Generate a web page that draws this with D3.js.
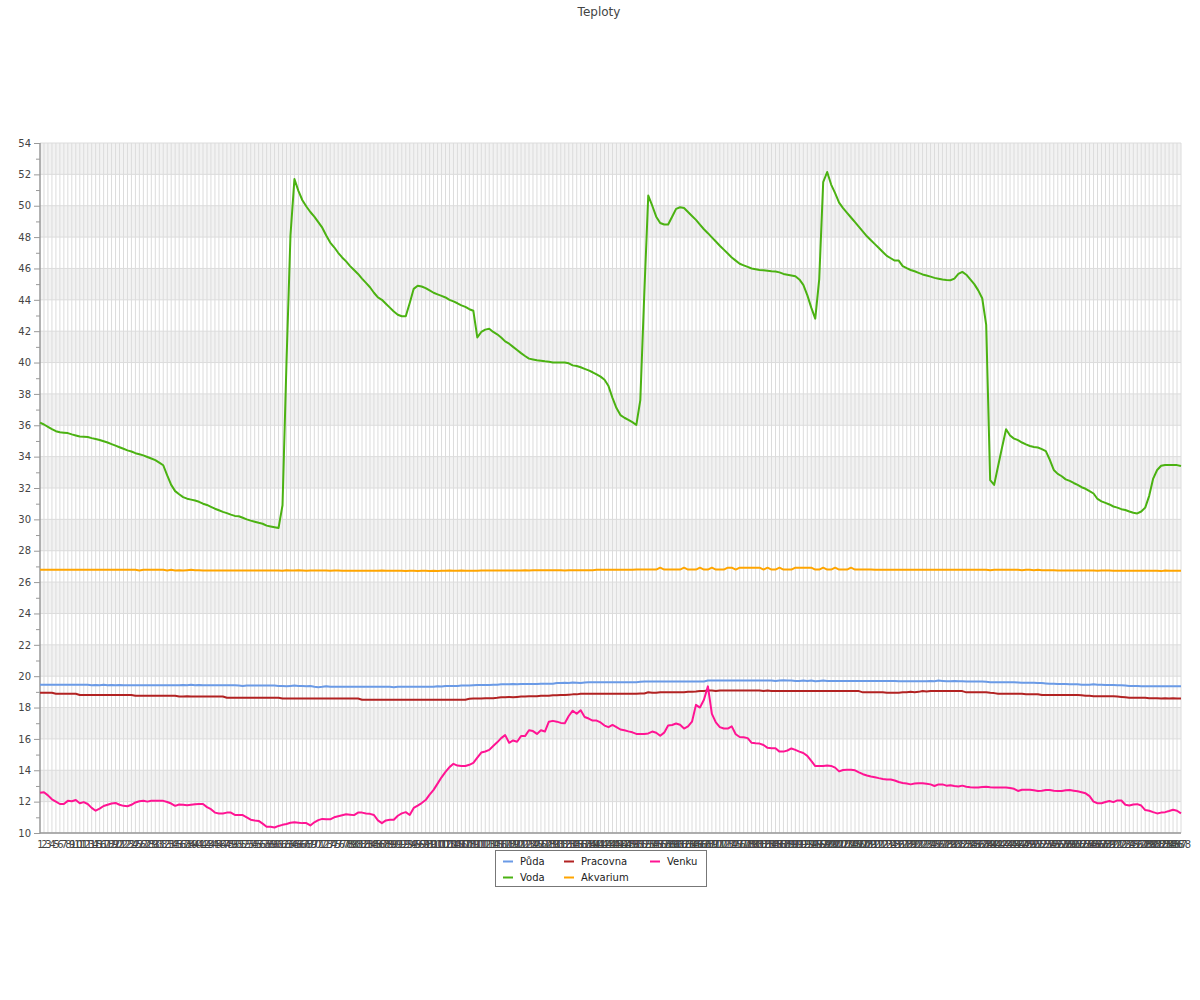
<!DOCTYPE html>
<html><head><meta charset="utf-8">
<script src="https://cdn.jsdelivr.net/npm/d3@7/dist/d3.min.js"></script>
<style>body{margin:0;background:#fff}svg{display:block;font-family:"DejaVu Sans",sans-serif}</style>
</head><body>
<svg id="c" width="1200" height="1000"></svg>
<script>
const chartTitle = "Teploty";
const categories = Array.from({length: 288}, (_, i) => String(i + 1));
const yTicks = [10,12,14,16,18,20,22,24,26,28,30,32,34,36,38,40,42,44,46,48,50,52,54];
const yMinorTicks = [11,13,15,17,19,21,23,25,27,29,31,33,35,37,39,41,43,45,47,49,51,53];
const seriesNames = ["Půda","Voda","Pracovna","Akvarium","Venku"];
const seriesColors = ["#6a9ae6","#4bb212","#b22222","#ffa500","#ff1493"];

const puda = [
19.46,19.46,19.46,19.46,19.46,19.46,19.46,19.46,19.46,19.46,
19.46,19.46,19.46,19.42,19.44,19.42,19.46,19.42,19.44,19.42,
19.44,19.42,19.42,19.42,19.42,19.42,19.42,19.42,19.42,19.42,
19.42,19.42,19.42,19.42,19.42,19.42,19.44,19.42,19.46,19.42,
19.44,19.42,19.42,19.42,19.42,19.42,19.42,19.42,19.42,19.42,
19.40,19.38,19.40,19.40,19.40,19.40,19.40,19.40,19.40,19.40,
19.38,19.38,19.36,19.38,19.40,19.38,19.38,19.36,19.38,19.33,
19.30,19.32,19.36,19.32,19.32,19.32,19.32,19.32,19.32,19.32,
19.32,19.32,19.32,19.32,19.32,19.32,19.32,19.32,19.32,19.30,
19.32,19.32,19.32,19.32,19.32,19.32,19.32,19.32,19.32,19.32,
19.36,19.34,19.38,19.38,19.38,19.38,19.40,19.40,19.40,19.42,
19.44,19.44,19.44,19.44,19.46,19.46,19.48,19.48,19.48,19.50,
19.48,19.50,19.50,19.50,19.50,19.50,19.52,19.52,19.52,19.52,
19.56,19.56,19.58,19.56,19.60,19.58,19.56,19.60,19.62,19.62,
19.62,19.62,19.62,19.62,19.62,19.62,19.62,19.62,19.62,19.62,
19.62,19.64,19.66,19.66,19.66,19.66,19.66,19.66,19.66,19.66,
19.66,19.66,19.66,19.66,19.66,19.66,19.66,19.66,19.72,19.72,
19.72,19.72,19.72,19.72,19.72,19.72,19.72,19.72,19.72,19.72,
19.72,19.72,19.72,19.72,19.72,19.70,19.72,19.74,19.72,19.72,
19.70,19.70,19.72,19.70,19.72,19.68,19.70,19.72,19.70,19.70,
19.70,19.70,19.70,19.70,19.70,19.70,19.70,19.70,19.70,19.70,
19.70,19.70,19.70,19.70,19.70,19.70,19.68,19.68,19.68,19.68,
19.68,19.68,19.68,19.68,19.70,19.68,19.72,19.70,19.68,19.68,
19.70,19.68,19.68,19.66,19.66,19.66,19.66,19.66,19.64,19.62,
19.62,19.62,19.62,19.62,19.62,19.62,19.60,19.58,19.58,19.58,
19.58,19.56,19.56,19.54,19.52,19.52,19.50,19.50,19.50,19.48,
19.48,19.48,19.46,19.46,19.46,19.48,19.46,19.46,19.44,19.44,
19.44,19.42,19.42,19.40,19.38,19.38,19.38,19.36,19.36,19.36,
19.36,19.36,19.36,19.36,19.36,19.36,19.36,19.36];

const voda = [
36.17,36.05,35.90,35.75,35.62,35.55,35.53,35.50,35.42,35.35,
35.28,35.27,35.25,35.18,35.12,35.06,34.98,34.90,34.80,34.70,
34.60,34.50,34.40,34.33,34.22,34.15,34.08,33.98,33.88,33.78,
33.62,33.45,32.80,32.20,31.80,31.60,31.42,31.32,31.26,31.20,
31.12,31.00,30.92,30.80,30.68,30.58,30.48,30.40,30.30,30.22,
30.20,30.10,30.00,29.92,29.85,29.78,29.72,29.60,29.55,29.50,
29.45,30.90,40.00,48.10,51.70,50.95,50.35,49.95,49.60,49.30,
48.95,48.60,48.10,47.65,47.35,47.00,46.70,46.45,46.15,45.90,
45.65,45.35,45.08,44.80,44.45,44.15,44.00,43.75,43.50,43.25,
43.05,42.95,42.95,43.80,44.70,44.90,44.85,44.75,44.60,44.45,
44.35,44.25,44.15,44.00,43.90,43.78,43.65,43.55,43.40,43.30,
41.60,41.95,42.10,42.15,41.95,41.80,41.60,41.35,41.20,41.00,
40.80,40.60,40.42,40.25,40.20,40.15,40.12,40.08,40.05,40.00,
40.00,40.00,40.00,39.95,39.82,39.78,39.70,39.60,39.50,39.38,
39.25,39.10,38.90,38.50,37.75,37.10,36.65,36.48,36.35,36.20,
36.02,37.60,44.40,50.65,50.00,49.30,48.90,48.80,48.80,49.30,
49.80,49.90,49.85,49.60,49.35,49.10,48.80,48.50,48.25,47.98,
47.72,47.45,47.20,46.95,46.70,46.50,46.30,46.20,46.10,46.00,
45.95,45.90,45.88,45.85,45.82,45.80,45.75,45.65,45.60,45.55,
45.50,45.30,44.95,44.30,43.50,42.80,45.30,51.50,52.15,51.35,
50.80,50.20,49.85,49.55,49.25,48.95,48.65,48.35,48.05,47.80,
47.55,47.30,47.05,46.80,46.65,46.50,46.50,46.15,46.02,45.90,
45.82,45.72,45.62,45.55,45.48,45.40,45.35,45.30,45.27,45.25,
45.35,45.65,45.78,45.60,45.30,45.00,44.60,44.10,42.40,32.50,
32.20,33.40,34.60,35.75,35.35,35.15,35.05,34.90,34.78,34.68,
34.62,34.58,34.48,34.35,33.80,33.15,32.90,32.75,32.55,32.45,
32.32,32.20,32.05,31.95,31.80,31.65,31.30,31.15,31.05,30.95,
30.82,30.75,30.65,30.60,30.50,30.42,30.38,30.50,30.75,31.50,
32.60,33.15,33.42,33.47,33.47,33.47,33.46,33.40];

const pracovna = [
18.94,18.94,18.94,18.94,18.88,18.88,18.88,18.88,18.88,18.88,
18.80,18.80,18.80,18.80,18.80,18.80,18.80,18.80,18.80,18.80,
18.80,18.80,18.80,18.80,18.75,18.75,18.75,18.75,18.75,18.75,
18.75,18.75,18.75,18.75,18.75,18.70,18.70,18.72,18.70,18.70,
18.70,18.70,18.70,18.70,18.70,18.70,18.70,18.62,18.62,18.62,
18.62,18.62,18.62,18.62,18.62,18.62,18.62,18.62,18.62,18.62,
18.62,18.58,18.58,18.58,18.58,18.58,18.58,18.58,18.58,18.58,
18.58,18.58,18.58,18.58,18.58,18.58,18.58,18.58,18.58,18.58,
18.58,18.50,18.50,18.50,18.50,18.50,18.50,18.50,18.50,18.50,
18.50,18.50,18.50,18.50,18.50,18.50,18.50,18.50,18.50,18.50,
18.50,18.50,18.50,18.50,18.50,18.50,18.50,18.50,18.56,18.58,
18.58,18.58,18.60,18.60,18.60,18.62,18.65,18.65,18.68,18.65,
18.68,18.70,18.70,18.72,18.72,18.72,18.75,18.75,18.75,18.78,
18.78,18.80,18.80,18.82,18.84,18.84,18.88,18.88,18.88,18.88,
18.88,18.88,18.88,18.88,18.88,18.88,18.88,18.88,18.88,18.88,
18.88,18.90,18.90,18.97,18.94,18.94,18.97,18.97,18.97,18.97,
18.97,18.97,18.97,19.00,19.00,19.02,19.05,19.05,19.08,19.08,
19.05,19.08,19.08,19.08,19.08,19.08,19.08,19.08,19.08,19.08,
19.08,19.08,19.05,19.08,19.05,19.05,19.05,19.05,19.05,19.05,
19.05,19.05,19.05,19.05,19.05,19.05,19.05,19.05,19.05,19.05,
19.05,19.05,19.05,19.05,19.05,19.05,19.05,18.97,18.97,18.97,
18.97,18.97,18.97,18.95,18.95,18.95,18.95,18.97,18.97,19.00,
18.97,19.00,19.05,19.03,19.05,19.05,19.05,19.05,19.05,19.05,
19.05,19.05,19.05,18.97,18.97,18.97,18.97,18.97,18.97,18.94,
18.92,18.88,18.88,18.88,18.88,18.88,18.88,18.88,18.85,18.85,
18.85,18.85,18.80,18.80,18.80,18.80,18.80,18.80,18.80,18.80,
18.80,18.80,18.78,18.75,18.75,18.72,18.72,18.72,18.72,18.72,
18.72,18.70,18.68,18.65,18.62,18.62,18.62,18.62,18.62,18.60,
18.60,18.60,18.58,18.60,18.58,18.60,18.58,18.58];

const akvarium = [
26.78,26.78,26.78,26.78,26.78,26.78,26.78,26.78,26.78,26.78,
26.78,26.78,26.78,26.78,26.78,26.78,26.78,26.78,26.78,26.78,
26.78,26.78,26.78,26.78,26.78,26.74,26.78,26.78,26.78,26.78,
26.78,26.78,26.74,26.78,26.74,26.76,26.74,26.76,26.78,26.76,
26.76,26.74,26.74,26.74,26.74,26.74,26.74,26.74,26.74,26.74,
26.74,26.74,26.74,26.74,26.74,26.74,26.74,26.74,26.74,26.74,
26.74,26.72,26.76,26.74,26.74,26.76,26.74,26.72,26.74,26.74,
26.74,26.74,26.74,26.72,26.74,26.74,26.72,26.72,26.72,26.72,
26.72,26.72,26.72,26.72,26.72,26.72,26.74,26.72,26.72,26.72,
26.72,26.72,26.70,26.72,26.72,26.70,26.72,26.72,26.70,26.72,
26.70,26.72,26.72,26.74,26.72,26.72,26.74,26.72,26.72,26.72,
26.72,26.74,26.74,26.74,26.74,26.74,26.74,26.74,26.74,26.74,
26.74,26.74,26.76,26.74,26.76,26.76,26.76,26.76,26.76,26.76,
26.76,26.76,26.74,26.76,26.76,26.76,26.76,26.76,26.76,26.76,
26.78,26.78,26.78,26.78,26.78,26.78,26.78,26.78,26.78,26.78,
26.80,26.80,26.80,26.80,26.80,26.80,26.92,26.80,26.80,26.80,
26.80,26.80,26.92,26.80,26.80,26.80,26.92,26.80,26.80,26.92,
26.80,26.80,26.80,26.92,26.92,26.80,26.92,26.92,26.92,26.92,
26.92,26.92,26.80,26.92,26.80,26.80,26.92,26.80,26.80,26.80,
26.92,26.92,26.92,26.92,26.92,26.80,26.80,26.92,26.80,26.80,
26.92,26.80,26.80,26.80,26.92,26.80,26.80,26.80,26.80,26.80,
26.78,26.78,26.78,26.78,26.78,26.78,26.78,26.78,26.78,26.78,
26.78,26.78,26.78,26.78,26.78,26.78,26.78,26.78,26.78,26.78,
26.78,26.78,26.78,26.78,26.78,26.78,26.78,26.78,26.78,26.76,
26.78,26.78,26.78,26.78,26.78,26.78,26.78,26.76,26.78,26.78,
26.76,26.78,26.76,26.76,26.76,26.76,26.74,26.74,26.74,26.74,
26.74,26.74,26.74,26.74,26.74,26.74,26.72,26.74,26.74,26.74,
26.72,26.72,26.72,26.72,26.72,26.72,26.72,26.72,26.72,26.72,
26.72,26.72,26.70,26.74,26.72,26.72,26.72,26.72];

const venku = [
12.56,12.60,12.40,12.15,12.00,11.85,11.85,12.05,12.02,12.10,
11.90,11.97,11.85,11.60,11.42,11.55,11.72,11.80,11.88,11.92,
11.80,11.73,11.71,11.80,11.95,12.02,12.05,12.00,12.05,12.05,
12.05,12.05,11.98,11.88,11.73,11.82,11.80,11.77,11.80,11.83,
11.85,11.85,11.65,11.52,11.30,11.25,11.25,11.30,11.30,11.15,
11.14,11.14,11.00,10.85,10.80,10.77,10.60,10.40,10.40,10.35,
10.45,10.52,10.57,10.65,10.68,10.66,10.63,10.63,10.48,10.68,
10.82,10.90,10.88,10.87,11.00,11.07,11.13,11.19,11.17,11.14,
11.30,11.30,11.25,11.22,11.15,10.80,10.63,10.80,10.85,10.85,
11.10,11.25,11.33,11.15,11.60,11.75,11.91,12.10,12.45,12.75,
13.15,13.55,13.90,14.20,14.41,14.30,14.27,14.27,14.35,14.47,
14.80,15.13,15.20,15.30,15.55,15.78,16.05,16.24,15.75,15.90,
15.82,16.18,16.18,16.55,16.50,16.32,16.55,16.47,17.10,17.15,
17.10,17.02,17.00,17.46,17.80,17.60,17.83,17.40,17.30,17.17,
17.17,17.05,16.85,16.75,16.89,16.75,16.60,16.55,16.48,16.42,
16.32,16.32,16.32,16.35,16.47,16.39,16.20,16.40,16.85,16.89,
16.98,16.90,16.66,16.80,17.10,18.17,18.00,18.50,19.35,17.60,
17.05,16.75,16.66,16.66,16.80,16.30,16.12,16.10,16.05,15.75,
15.72,15.70,15.61,15.43,15.41,15.40,15.19,15.19,15.26,15.39,
15.30,15.19,15.10,14.92,14.60,14.27,14.27,14.27,14.30,14.28,
14.17,13.93,14.02,14.04,14.04,14.00,13.87,13.75,13.67,13.60,
13.56,13.50,13.45,13.41,13.41,13.35,13.25,13.19,13.15,13.10,
13.15,13.18,13.17,13.14,13.10,13.00,13.10,13.10,13.02,13.05,
13.00,12.96,13.02,12.95,12.92,12.90,12.90,12.94,12.95,12.92,
12.90,12.90,12.90,12.90,12.87,12.82,12.68,12.76,12.76,12.76,
12.73,12.68,12.70,12.74,12.74,12.70,12.68,12.68,12.73,12.74,
12.70,12.66,12.60,12.53,12.35,12.00,11.90,11.90,11.98,12.04,
11.97,12.08,12.07,11.80,11.75,11.82,11.84,11.75,11.46,11.42,
11.33,11.25,11.30,11.33,11.40,11.48,11.42,11.25];

const seriesValues = [puda, voda, pracovna, akvarium, venku];

const svg = d3.select("#c");
const plotLeft = 40, plotRight = 1181, plotTop = 143, plotBottom = 833;
const x = d3.scalePoint().domain(categories).range([plotLeft, plotRight]);
const y = d3.scaleLinear().domain([10, 54]).range([plotBottom, plotTop]);

// title
svg.append("text").attr("x", 599).attr("y", 16).attr("text-anchor", "middle")
  .attr("font-size", 12).attr("fill", "#444").text(chartTitle);

// alternating bands
const bandG = svg.append("g");
yTicks.slice(0, -1).forEach((v, k) => {
  if (k % 2 === 1) {
    bandG.append("rect").attr("x", plotLeft).attr("width", plotRight - plotLeft)
      .attr("y", y(v + 2)).attr("height", y(v) - y(v + 2)).attr("fill", "#f2f2f2");
  }
});

// vertical grid
svg.append("g").selectAll("line").data(categories.slice(1)).join("line")
  .attr("x1", d => x(d)).attr("x2", d => x(d)).attr("y1", plotTop).attr("y2", plotBottom)
  .attr("stroke", "#dcdcdc").attr("stroke-width", 1);

// horizontal grid
svg.append("g").selectAll("line").data(yTicks).join("line")
  .attr("x1", plotLeft).attr("x2", plotRight).attr("y1", d => y(d)).attr("y2", d => y(d))
  .attr("stroke", "#dcdcdc").attr("stroke-width", 1);

// y axis
const yAxis = d3.axisLeft(y).tickValues(yTicks).tickSize(6).tickPadding(3).tickFormat(d3.format("d"));
const yg = svg.append("g").attr("transform", `translate(${plotLeft},0)`).call(yAxis);
yg.select(".domain").remove();
yg.selectAll("line").attr("stroke", "#999");
yg.selectAll("text").attr("font-size", 10).attr("fill", "#444").attr("font-family", "DejaVu Sans");
const yMinor = d3.axisLeft(y).tickValues(yMinorTicks).tickSize(4).tickFormat("");
const ymg = svg.append("g").attr("transform", `translate(${plotLeft},0)`).call(yMinor);
ymg.select(".domain").remove();
ymg.selectAll("line").attr("stroke", "#999");

// x axis labels
const xAxis = d3.axisBottom(x).tickSize(0).tickPadding(8);
const xg = svg.append("g").attr("transform", `translate(0,${plotBottom})`).call(xAxis);
xg.select(".domain").remove();
xg.selectAll("text").attr("font-size", 10).attr("fill", "#444").attr("font-family", "DejaVu Sans");

// axis lines
svg.append("line").attr("x1", plotLeft).attr("x2", plotLeft).attr("y1", plotTop).attr("y2", plotBottom + 0.5)
  .attr("stroke", "#999").attr("stroke-width", 1.5);
svg.append("line").attr("x1", plotLeft).attr("x2", plotRight).attr("y1", plotBottom).attr("y2", plotBottom)
  .attr("stroke", "#999").attr("stroke-width", 1.5);

// series
const line = d3.line().x((d, i) => x(categories[i])).y(d => y(d));
seriesValues.forEach((vals, k) => {
  svg.append("path").datum(vals).attr("d", line).attr("fill", "none")
    .attr("stroke", seriesColors[k]).attr("stroke-width", 2).attr("stroke-linejoin", "round");
});

// legend
const lg = svg.append("g");
lg.append("rect").attr("x", 495.5).attr("y", 850.5).attr("width", 211).attr("height", 36)
  .attr("fill", "#fff").attr("stroke", "#777");
const colX = [520, 581, 667];
const rowY = [861, 877];
seriesNames.forEach((name, k) => {
  const col = Math.floor(k / 2), row = k % 2;
  lg.append("line").attr("x1", colX[col] - 17).attr("x2", colX[col] - 7)
    .attr("y1", rowY[row] + 0.5).attr("y2", rowY[row] + 0.5)
    .attr("stroke", seriesColors[k]).attr("stroke-width", 2);
  lg.append("text").attr("x", colX[col]).attr("y", rowY[row]).attr("dy", "0.35em")
    .attr("font-size", 10).attr("fill", "#222").text(name);
});
</script>
</body></html>
